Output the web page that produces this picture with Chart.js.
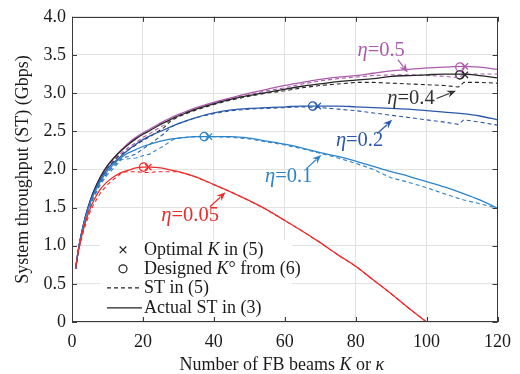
<!DOCTYPE html>
<html><head><meta charset="utf-8">
<script src="https://cdn.jsdelivr.net/npm/chart.js@4.4.1/dist/chart.umd.min.js"></script>
<style>html,body{margin:0;padding:0;background:#fff}canvas{display:block}</style>
</head><body>
<canvas id="c" width="520" height="374"></canvas>
<script>
// ---------- data ----------
const etaLabels = ['0.05', '0.1', '0.2', '0.4', '0.5'];

// Actual ST in (3) (solid lines)
const K = [1,2,3,4,5,6,8,10,12,14,16,18,20,22,25,28,30,35,40,45,50,55,60,65,70,75,80,85,90,95,100,105,110,115,120];
const actRed    = [0.70,0.98,1.18,1.34,1.47,1.58,1.74,1.84,1.91,1.96,1.99,2.02,2.03,2.03,2.02,1.99,1.97,1.90,1.80,1.70,1.59,1.47,1.33,1.19,1.04,0.88,0.73,0.55,0.37,0.18,0.00,null,null,null,null];
const actLBlue  = [0.70,1.00,1.22,1.40,1.54,1.66,1.84,1.98,2.08,2.16,2.22,2.26,2.30,2.33,2.37,2.40,2.41,2.43,2.43,2.43,2.41,2.37,2.33,2.28,2.22,2.17,2.11,2.04,1.97,1.91,1.84,1.77,1.69,1.60,1.49];
const actDBlue  = [0.70,1.00,1.22,1.41,1.56,1.68,1.87,2.01,2.10,2.18,2.26,2.33,2.39,2.44,2.50,2.56,2.60,2.68,2.74,2.78,2.80,2.81,2.82,2.83,2.83,2.83,2.82,2.81,2.80,2.79,2.77,2.75,2.73,2.70,2.65];
const actBlack  = [0.70,1.00,1.23,1.42,1.57,1.70,1.90,2.05,2.16,2.25,2.33,2.40,2.46,2.51,2.59,2.66,2.70,2.79,2.86,2.92,2.97,3.01,3.05,3.09,3.12,3.15,3.17,3.19,3.22,3.23,3.24,3.25,3.25,3.23,3.20];
const actPurple = [0.70,1.00,1.23,1.42,1.57,1.70,1.90,2.05,2.16,2.26,2.35,2.42,2.48,2.53,2.61,2.68,2.72,2.81,2.88,2.94,3.00,3.05,3.10,3.14,3.18,3.21,3.23,3.26,3.29,3.31,3.33,3.34,3.35,3.34,3.31];

// ST in (5) (dashed lines)
const Kd = [1,2,3,4,5,6,8,10,12,13,14,16,18,20,22,24,26,28,30,35,40,45,50,55,60,65,70,75,80,85,90,95,100,105,109,110.5,115,120];
const stRed    = [0.70,0.96,1.15,1.30,1.43,1.53,1.69,1.80,1.88,1.91,1.96,1.97,1.97,1.96,1.96,1.97,1.97,1.97,1.97,1.90,1.80,1.70,1.59,1.47,1.33,1.19,1.04,0.88,0.73,0.55,0.37,0.18,0.00,null,null,null,null,null];
const stLBlue  = [0.70,0.98,1.20,1.37,1.50,1.62,1.80,1.93,2.03,2.08,2.13,2.14,2.15,2.18,2.20,2.26,2.31,2.38,2.41,2.43,2.43,2.42,2.40,2.36,2.32,2.27,2.21,2.15,2.08,2.00,1.89,1.83,1.76,1.68,1.62,1.60,1.55,1.49];
const stDBlue  = [0.70,0.98,1.20,1.38,1.52,1.64,1.82,1.96,2.06,2.10,2.15,2.17,2.20,2.27,2.33,2.40,2.47,2.56,2.60,2.68,2.73,2.77,2.79,2.80,2.81,2.82,2.81,2.79,2.77,2.74,2.71,2.68,2.65,2.62,2.59,2.65,2.62,2.58];
const stBlack  = [0.70,1.00,1.22,1.41,1.55,1.68,1.87,2.01,2.12,2.17,2.20,2.26,2.32,2.38,2.43,2.49,2.55,2.64,2.69,2.78,2.85,2.91,2.96,3.00,3.03,3.07,3.10,3.12,3.14,3.14,3.13,3.12,3.11,3.10,3.08,3.14,3.14,3.13];
const stPurple = [0.70,1.00,1.22,1.41,1.56,1.69,1.88,2.02,2.14,2.19,2.22,2.29,2.35,2.42,2.47,2.53,2.58,2.66,2.71,2.80,2.87,2.93,2.98,3.03,3.07,3.12,3.16,3.19,3.21,3.23,3.24,3.24,3.23,3.22,3.20,3.25,3.25,3.25];

// Optimal K in (5) (crosses) and designed K° from (6) (circles)
const optK  = [21.5, 38.6, 69.3, 110.8, 110.8];
const optST = [2.03, 2.43, 2.83, 3.24, 3.35];
const desK  = [20.2, 37.3, 67.9, 109.4, 109.4];
const desST = [2.03, 2.43, 2.83, 3.24, 3.34];

// annotation anchors (data coordinates)
const lblK   = [33.3, 61.1, 81.1, 95.6, 87.2];
const lblST  = [1.40, 1.91, 2.38, 2.93, 3.56];
const arrFromK  = [38.9, 66.1, 86.1, 102.8, 91.9];
const arrFromST = [1.51, 2.01, 2.47, 2.93, 3.44];
const arrToK    = [43.3, 70.3, 90.3, 108.3, 94.7];
const arrToST   = [1.70, 2.19, 2.65, 3.03, 3.27];

const xTicks = [0, 20, 40, 60, 80, 100, 120];
const yTicks = [0, 0.5, 1.0, 1.5, 2.0, 2.5, 3.0, 3.5, 4.0];

// ---------- styles ----------
const COLORS = ['#ee2b2b', '#2d84c8', '#2a58aa', '#262626', '#ad5bad'];
const LABEL_COLORS = ['#ee2b2b', '#2d84c8', '#2a58aa', '#333333', '#ad5bad'];
const FONT = '"Liberation Serif", "Times New Roman", serif';

const actual = [actRed, actLBlue, actDBlue, actBlack, actPurple];
const st = [stRed, stLBlue, stDBlue, stBlack, stPurple];

const datasets = [];
actual.forEach((arr, i) => {
  datasets.push({
    label: 'Actual ST eta=' + etaLabels[i],
    data: K.map((k, j) => ({x: k, y: arr[j]})),
    borderColor: COLORS[i], borderWidth: 1.3, pointRadius: 0,
    tension: 0.3, cubicInterpolationMode: 'monotone', fill: false
  });
});
st.forEach((arr, i) => {
  datasets.push({
    label: 'ST (5) eta=' + etaLabels[i],
    data: Kd.map((k, j) => ({x: k, y: arr[j]})),
    borderColor: COLORS[i], borderWidth: 1.1, borderDash: [4, 3], pointRadius: 0,
    tension: 0, fill: false
  });
});
datasets.push({
  label: 'Optimal K',
  data: optK.map((k, j) => ({x: k, y: optST[j]})),
  showLine: false, pointStyle: 'crossRot', pointRadius: 4.5, pointBorderWidth: 1.3,
  pointBorderColor: COLORS, pointBackgroundColor: COLORS
});
datasets.push({
  label: 'Designed K',
  data: desK.map((k, j) => ({x: k, y: desST[j]})),
  showLine: false, pointStyle: 'circle', pointRadius: 4.2, pointBorderWidth: 1.3,
  pointBorderColor: COLORS, pointBackgroundColor: 'rgba(255,255,255,0)'
});

function richWidth(ctx, parts, size) {
  let w = 0;
  parts.forEach(p => { ctx.font = (p.i ? 'italic ' : '') + size + 'px ' + FONT; w += ctx.measureText(p.t).width; });
  return w;
}
function drawRich(ctx, parts, x, y, size, color, align) {
  const w = richWidth(ctx, parts, size);
  let cx = align === 'center' ? x - w / 2 : x;
  ctx.fillStyle = color; ctx.textBaseline = 'middle'; ctx.textAlign = 'left';
  parts.forEach(p => {
    ctx.font = (p.i ? 'italic ' : '') + size + 'px ' + FONT;
    ctx.fillText(p.t, cx, y);
    cx += ctx.measureText(p.t).width;
  });
}
function arrow(ctx, x1, y1, x2, y2, color) {
  const ang = Math.atan2(y2 - y1, x2 - x1);
  const L = 9, W = 3.6;
  ctx.strokeStyle = color; ctx.fillStyle = color; ctx.lineWidth = 1.2; ctx.setLineDash([]);
  ctx.beginPath(); ctx.moveTo(x1, y1);
  ctx.lineTo(x2 - L * 0.8 * Math.cos(ang), y2 - L * 0.8 * Math.sin(ang)); ctx.stroke();
  ctx.beginPath();
  ctx.moveTo(x2, y2);
  ctx.lineTo(x2 - L * Math.cos(ang) + W * Math.sin(ang), y2 - L * Math.sin(ang) - W * Math.cos(ang));
  ctx.lineTo(x2 - L * 0.7 * Math.cos(ang), y2 - L * 0.7 * Math.sin(ang));
  ctx.lineTo(x2 - L * Math.cos(ang) - W * Math.sin(ang), y2 - L * Math.sin(ang) + W * Math.cos(ang));
  ctx.closePath(); ctx.fill();
}

const decor = {
  id: 'decor',
  afterDraw(chart) {
    const {ctx, chartArea: a, scales: {x, y}} = chart;
    ctx.save();
    // annotations
    for (let i = 0; i < etaLabels.length; i++) {
      drawRich(ctx, [{t: 'η', i: true}, {t: '=' + etaLabels[i]}],
        x.getPixelForValue(lblK[i]), y.getPixelForValue(lblST[i]), 20.5, LABEL_COLORS[i], 'center');
      arrow(ctx, x.getPixelForValue(arrFromK[i]), y.getPixelForValue(arrFromST[i]),
        x.getPixelForValue(arrToK[i]), y.getPixelForValue(arrToST[i]), LABEL_COLORS[i]);
    }
    // legend
    const lx = a.left + 28, ly = a.top + 223;
    ctx.fillStyle = '#ffffff';
    ctx.fillRect(lx, ly, 192, 77);
    const mx = lx + 23, tx = lx + 44;
    const rows = [ly + 10, ly + 29, ly + 48, ly + 68];
    ctx.strokeStyle = '#222'; ctx.lineWidth = 1.2;
    ctx.beginPath();
    ctx.moveTo(mx - 3.3, rows[0] - 3.3); ctx.lineTo(mx + 3.3, rows[0] + 3.3);
    ctx.moveTo(mx + 3.3, rows[0] - 3.3); ctx.lineTo(mx - 3.3, rows[0] + 3.3);
    ctx.stroke();
    ctx.beginPath(); ctx.arc(mx, rows[1], 4, 0, Math.PI * 2); ctx.stroke();
    ctx.setLineDash([4, 3]);
    ctx.beginPath(); ctx.moveTo(lx + 7, rows[2]); ctx.lineTo(lx + 42, rows[2]); ctx.stroke();
    ctx.setLineDash([]);
    ctx.beginPath(); ctx.moveTo(lx + 7, rows[3]); ctx.lineTo(lx + 42, rows[3]); ctx.stroke();
    drawRich(ctx, [{t: 'Optimal '}, {t: 'K', i: true}, {t: ' in (5)'}], tx, rows[0], 18, '#1a1a1a', 'left');
    drawRich(ctx, [{t: 'Designed '}, {t: 'K', i: true}, {t: '°'}, {t: ' from (6)'}], tx, rows[1], 18, '#1a1a1a', 'left');
    drawRich(ctx, [{t: 'ST in (5)'}], tx, rows[2], 18, '#1a1a1a', 'left');
    drawRich(ctx, [{t: 'Actual ST in (3)'}], tx, rows[3], 18, '#1a1a1a', 'left');
    // x-axis title
    drawRich(ctx, [{t: 'Number of FB beams '}, {t: 'K', i: true}, {t: ' or '}, {t: 'κ', i: true}],
      (a.left + a.right) / 2 - 3, a.bottom + 43, 18, '#1a1a1a', 'center');
    // box and inward ticks
    ctx.strokeStyle = '#3a3a3a'; ctx.lineWidth = 1; ctx.setLineDash([]);
    ctx.strokeRect(Math.round(a.left) + 0.5, Math.round(a.top) + 0.5,
      Math.round(a.right - a.left) - 1, Math.round(a.bottom - a.top) - 1);
    ctx.beginPath();
    xTicks.forEach(t => {
      const px = Math.round(x.getPixelForValue(t)) + 0.5;
      ctx.moveTo(px, a.bottom); ctx.lineTo(px, a.bottom - 5);
      ctx.moveTo(px, a.top); ctx.lineTo(px, a.top + 5);
    });
    yTicks.forEach(t => {
      const py = Math.round(y.getPixelForValue(t)) + 0.5;
      ctx.moveTo(a.left, py); ctx.lineTo(a.left + 5, py);
      ctx.moveTo(a.right, py); ctx.lineTo(a.right - 5, py);
    });
    ctx.stroke();
    ctx.restore();
  }
};

new Chart(document.getElementById('c'), {
  type: 'line',
  data: {datasets},
  options: {
    responsive: false, animation: false, devicePixelRatio: 1,
    layout: {padding: {left: 0, right: 17, top: 12, bottom: 0}},
    plugins: {legend: {display: false}, tooltip: {enabled: false}},
    elements: {line: {borderCapStyle: 'butt'}},
    scales: {
      x: {
        type: 'linear', min: 0, max: 120,
        afterFit: s => { s.height = 52; },
        afterBuildTicks: s => { s.ticks = xTicks.map(v => ({value: v})); },
        grid: {color: '#e2e2e2', drawTicks: false, lineWidth: 1},
        border: {display: false},
        ticks: {padding: 9, color: '#1a1a1a', font: {family: FONT, size: 18}, maxRotation: 0,
          callback: v => String(v)}
      },
      y: {
        min: 0, max: 4,
        afterFit: s => { s.width = 72; },
        afterBuildTicks: s => { s.ticks = yTicks.map(v => ({value: v})); },
        grid: {color: '#e2e2e2', drawTicks: false, lineWidth: 1},
        border: {display: false},
        ticks: {padding: 6, color: '#1a1a1a', font: {family: FONT, size: 18},
          callback: v => v === 0 ? '0' : Number(v).toFixed(1)},
        title: {display: true, text: 'System throughput (ST) (Gbps)', color: '#1a1a1a',
          font: {family: FONT, size: 18}, padding: {top: 12, bottom: 0}}
      }
    }
  },
  plugins: [decor]
});
</script>
</body></html>
